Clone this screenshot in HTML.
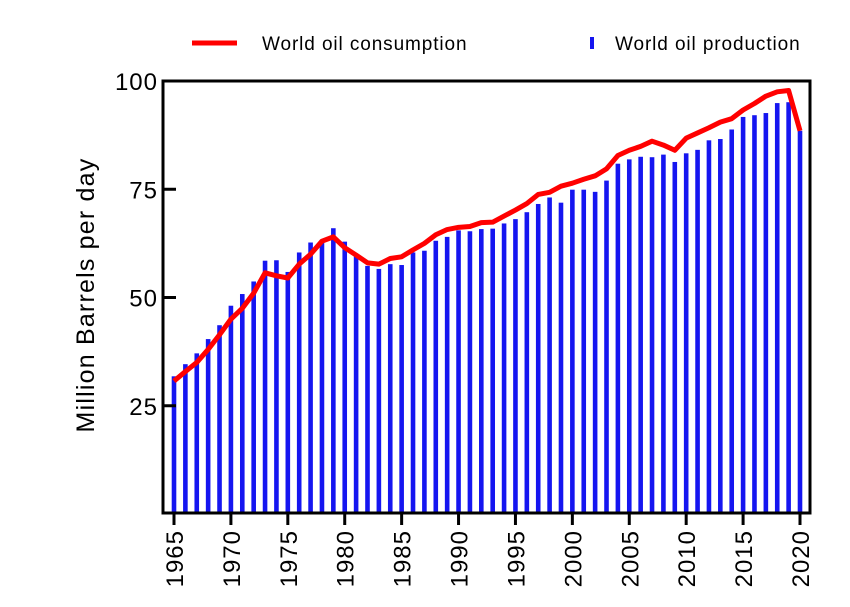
<!DOCTYPE html>
<html><head><meta charset="utf-8"><style>
body{margin:0;background:#fff;}
svg{display:block;font-family:"Liberation Sans",sans-serif;}
</style></head><body>
<svg id="chart" width="850" height="607" viewBox="0 0 850 607">
<g>
<line x1="192" y1="43" x2="237" y2="43" stroke="#f00" stroke-width="5"/>
<text x="262" y="50" font-size="19" letter-spacing="0.9" fill="#000">World oil consumption</text>
<rect x="590" y="37" width="4" height="12" fill="#1515f0"/>
<text x="615" y="50" font-size="19" letter-spacing="0.9" fill="#000">World oil production</text>
</g>
<text transform="translate(94,295) rotate(-90)" text-anchor="middle" font-size="25" letter-spacing="1.2">Million Barrels per day</text>
<g id="bars"></g>
<g id="axes"></g>
<polyline id="line" fill="none" stroke="#f00" stroke-width="5" stroke-linejoin="round"/>
<rect x="163" y="81" width="647" height="432" fill="none" stroke="#000" stroke-width="3"/>
</svg>
<script>
const years = [];
for (let y = 1965; y <= 2020; y++) years.push(y);
const production = [31.8,34.6,37.1,40.4,43.6,48.1,50.8,53.7,58.5,58.6,55.9,60.4,62.7,63.3,66.0,62.9,59.5,57.3,56.6,57.7,57.5,60.4,60.8,63.1,64.0,65.5,65.3,65.8,65.9,67.1,68.1,69.7,71.6,73.1,71.9,74.9,74.9,74.4,77.0,80.9,81.9,82.5,82.4,83.0,81.3,83.3,84.1,86.3,86.6,88.8,91.7,92.1,92.6,94.9,95.1,88.5];
const consumption = [30.7,32.9,35.0,38.0,41.4,45.0,47.5,51.0,55.7,55.0,54.5,57.7,60.0,63.0,64.0,61.5,59.8,58.0,57.7,59.0,59.4,61.0,62.5,64.5,65.7,66.2,66.4,67.3,67.4,68.8,70.2,71.7,73.8,74.3,75.7,76.4,77.3,78.1,79.7,82.8,84.0,84.9,86.1,85.2,84.0,86.8,88.0,89.2,90.5,91.3,93.3,94.8,96.5,97.5,97.8,88.5];
const yTicks = [25,50,75,100];
const xLabels = [1965,1970,1975,1980,1985,1990,1995,2000,2005,2010,2015,2020];
const NS = "http://www.w3.org/2000/svg";
const xs = yr => 174 + (yr - 1965) * (626 / 55);
const ys = v => 514 - v * (433 / 100);
const bars = document.getElementById('bars');
years.forEach((yr, i) => {
  const r = document.createElementNS(NS, 'rect');
  r.setAttribute('x', xs(yr) - 2.3);
  r.setAttribute('y', ys(production[i]));
  r.setAttribute('width', 4.6);
  r.setAttribute('height', 514 - ys(production[i]));
  r.setAttribute('fill', '#1515f0');
  
  
  bars.appendChild(r);
});
document.getElementById('line').setAttribute('points', years.map((yr, i) => xs(yr) + ',' + ys(consumption[i])).join(' '));
const axes = document.getElementById('axes');
yTicks.forEach(t => {
  const l = document.createElementNS(NS, 'line');
  l.setAttribute('x1', 163); l.setAttribute('x2', 176);
  l.setAttribute('y1', ys(t)); l.setAttribute('y2', ys(t));
  l.setAttribute('stroke', '#000'); l.setAttribute('stroke-width', 3);
  
  
  axes.appendChild(l);
  const tx = document.createElementNS(NS, 'text');
  tx.setAttribute('x', 158); tx.setAttribute('y', ys(t) + 9);
  tx.setAttribute('text-anchor', 'end'); tx.setAttribute('font-size', 24);
  tx.setAttribute('letter-spacing', '1');
  tx.textContent = t;
  
  
  axes.appendChild(tx);
});
xLabels.forEach(yr => {
  const l = document.createElementNS(NS, 'line');
  l.setAttribute('x1', xs(yr)); l.setAttribute('x2', xs(yr));
  l.setAttribute('y1', 513); l.setAttribute('y2', 525);
  l.setAttribute('stroke', '#000'); l.setAttribute('stroke-width', 3);
  
  
  axes.appendChild(l);
  const tx = document.createElementNS(NS, 'text');
  tx.setAttribute('transform', 'translate(' + (xs(yr) + 9) + ',530) rotate(-90)');
  tx.setAttribute('text-anchor', 'end'); tx.setAttribute('font-size', 24);
  tx.setAttribute('letter-spacing', '1');
  tx.textContent = yr;
  
  
  axes.appendChild(tx);
});
</script>
</body></html>
